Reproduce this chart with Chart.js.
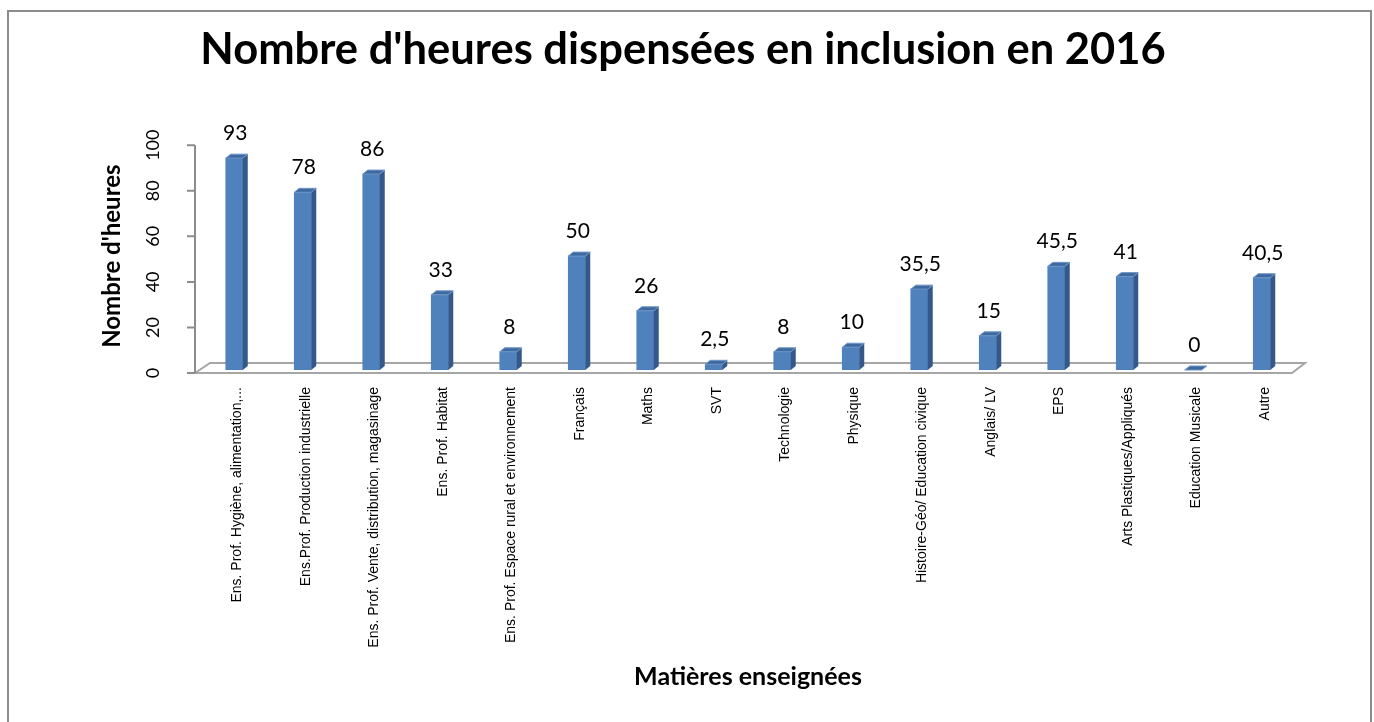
<!DOCTYPE html>
<html>
<head>
<meta charset="utf-8">
<script src="https://cdn.jsdelivr.net/npm/chart.js@4/dist/chart.umd.min.js"></script>
<style>
  body { margin: 0; background: #fff; }
  canvas { display: block; }
</style>
</head>
<body>
<canvas id="heuresChart" width="1374" height="722"></canvas>
<script>
const categories = [
    'Ens. Prof. Hygiène, alimentation,...',
    'Ens.Prof. Production industrielle',
    'Ens. Prof. Vente, distribution, magasinage',
    'Ens. Prof. Habitat',
    'Ens. Prof. Espace rural et environnement',
    'Français',
    'Maths',
    'SVT',
    'Technologie',
    'Physique',
    'Histoire-Géo/ Education civique',
    'Anglais/ LV',
    'EPS',
    'Arts Plastiques/Appliqués',
    'Education Musicale',
    'Autre'
];
const heures = [93, 78, 86, 33, 8, 50, 26, 2.5, 8, 10, 35.5, 15, 45.5, 41, 0, 40.5];
const yTicks = [0, 20, 40, 60, 80, 100];

const FONT = 'Lato, "Open Sans", sans-serif';

// 3D look: floor, axis, bar sides/tops, value labels, frame
const excel3d = {
    id: 'excel3d',
    beforeDraw(chart) {
        const c = chart.ctx;
        c.save();
        c.strokeStyle = '#8c8c8c';
        c.lineWidth = 2;
        c.beginPath();
        c.moveTo(8, 760);
        c.lineTo(8, 11);
        c.lineTo(1371, 11);
        c.lineTo(1371, 760);
        c.stroke();
        c.restore();
    },
    beforeDatasetsDraw(chart) {
        const c = chart.ctx;
        const area = chart.chartArea;
        const y = chart.scales.y;
        const front = y.getPixelForValue(0) + 3;
        const back = front - 10;
        c.save();
        c.strokeStyle = '#a6a6a6';
        c.lineWidth = 2;
        c.beginPath();
        c.moveTo(area.left - 13, front);
        c.lineTo(area.right - 4, front);
        c.lineTo(area.right + 9, back);
        c.lineTo(area.left + 10, back);
        c.lineTo(area.left - 5, front);
        c.stroke();
        // value axis
        c.strokeStyle = '#8c8c8c';
        c.beginPath();
        c.moveTo(area.left - 5, y.getPixelForValue(100) + 3);
        c.lineTo(area.left - 5, front);
        yTicks.forEach(v => {
            const py = y.getPixelForValue(v) + 3;
            c.moveTo(area.left - 13, py);
            c.lineTo(area.left - 5, py);
        });
        c.stroke();
        // rotated tick labels
        c.fillStyle = '#000';
        c.font = '18px ' + FONT;
        c.textAlign = 'center';
        c.textBaseline = 'middle';
        yTicks.forEach(v => {
            const py = y.getPixelForValue(v) + 3;
            c.save();
            c.translate(area.left - 47, py);
            c.rotate(-Math.PI / 2);
            c.fillText(String(v), 0, 0);
            c.restore();
        });
        c.restore();
    },
    afterDatasetsDraw(chart) {
        const c = chart.ctx;
        const meta = chart.getDatasetMeta(0);
        const d = 5, h = 4;
        c.save();
        meta.data.forEach((bar, i) => {
            const p = bar.getProps(['x', 'y', 'base', 'width'], true);
            const l = p.x - p.width / 2, r = p.x + p.width / 2;
            // side
            c.fillStyle = '#34588a';
            c.beginPath();
            c.moveTo(r, p.y);
            c.lineTo(r + d, p.y - h);
            c.lineTo(r + d, p.base - h);
            c.lineTo(r, p.base);
            c.closePath();
            c.fill();
            // top
            c.fillStyle = '#3f6aa0';
            c.strokeStyle = '#6f97c9';
            c.lineWidth = 1;
            c.beginPath();
            c.moveTo(l, p.y);
            c.lineTo(l + d, p.y - h);
            c.lineTo(r + d, p.y - h);
            c.lineTo(r, p.y);
            c.closePath();
            c.fill();
            c.stroke();
            // value label
            c.fillStyle = '#000';
            c.font = '21px ' + FONT;
            c.textAlign = 'center';
            c.textBaseline = 'alphabetic';
            c.fillText(String(heures[i]).replace('.', ','), p.x + 1, p.y - 18);
        });
        c.restore();
    }
};

new Chart(document.getElementById('heuresChart').getContext('2d'), {
    type: 'bar',
    data: {
        labels: categories,
        datasets: [{
            data: heures,
            backgroundColor: '#4f81bd',
            borderWidth: 0,
            barThickness: 17
        }]
    },
    options: {
        responsive: false,
        animation: false,
        layout: {
            padding: { left: 70, right: 78, top: 0, bottom: 30 }
        },
        plugins: {
            legend: { display: false },
            tooltip: { enabled: false },
            title: {
                display: true,
                text: "Nombre d'heures dispensées en inclusion en 2016",
                color: '#000',
                font: { family: FONT, size: 43.5, weight: 'bold' },
                padding: { top: 24, bottom: 66 }
            }
        },
        scales: {
            x: {
                grid: { display: false },
                border: { display: false },
                ticks: {
                    autoSkip: false,
                    minRotation: 90,
                    maxRotation: 90,
                    padding: 9,
                    labelOffset: 3,
                    color: '#000',
                    font: { family: '"Liberation Sans", Arial, sans-serif', size: 14 }
                },
                title: {
                    display: true,
                    text: 'Matières enseignées',
                    color: '#000',
                    font: { family: FONT, size: 25, weight: 'bold' },
                    padding: 0
                },
                afterFit(scale) { scale.height = 322; }
            },
            y: {
                min: 0,
                max: 100,
                grid: { display: false },
                border: { display: false },
                ticks: { display: false, stepSize: 20 },
                title: {
                    display: true,
                    text: "Nombre d'heures",
                    color: '#000',
                    font: { family: FONT, size: 24, weight: 'bold' },
                    padding: { top: 27.6, bottom: 0 }
                },
                afterFit(scale) { scale.width = 130; }
            }
        }
    },
    plugins: [excel3d]
});
</script>
</body>
</html>
